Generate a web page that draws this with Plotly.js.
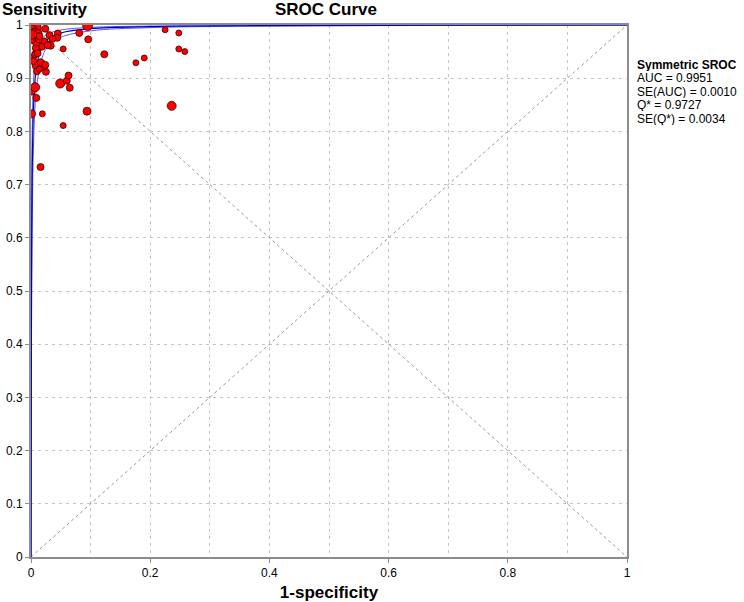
<!DOCTYPE html>
<html>
<head>
<meta charset="utf-8">
<script src="https://cdn.plot.ly/plotly-3.0.1.min.js"></script>
<style>html,body{margin:0;padding:0;background:#fff;}#chart{width:744px;height:602px;}</style>
</head>
<body>
<div id="chart"></div>
<script>
// Study points (1-specificity, sensitivity, marker diameter)
const studyFPR = [0.003,0.001,0.006,0.024,0.095,0.081,0.096,0.045,0.044,0.031,0.036,0.027,0.022,0.018,0.054,0.123,0.176,0.190,0.225,0.248,0.248,0.258,0.236,0.094,0.054,0.019,0.001,0.016,0.001,0.007,0.009,0.049,0.060,0.063,0.065,0.025,0.018,0.022,0.008,0.010,0.014,0.003,0.004,0.007,0.010,0.008,0.011,0.009,0.006,0.002,0.013,0.012,0.014,0.001,0.016,0.024,0.002,0.033,0.028];
const studySens = [0.994,0.990,0.985,0.993,0.999,0.985,0.973,0.984,0.976,0.981,0.974,0.964,0.969,0.959,0.955,0.945,0.929,0.938,0.991,0.985,0.955,0.950,0.848,0.838,0.811,0.833,0.833,0.733,0.875,0.883,0.863,0.890,0.895,0.905,0.882,0.912,0.928,0.922,0.923,0.913,0.917,0.939,0.932,0.945,0.952,0.957,0.947,0.970,0.977,0.975,0.973,0.984,0.979,0.972,0.930,0.925,0.982,0.961,0.962];
const studySize = [17,11,9,7,10,7,7,7,7,7,7,7,7,7,6,7,6,6,6,6,6,6,9,8,6,6,8,7,7,9,7,9,7,7,7,7,7,7,7,7,6,7,7,7,7,7,7,10,8,8,7,8,7,7,7,7,9,7,7];

// SROC curve and its bands
const curveFPR   = [0,0.0005,0.001,0.002,0.004,0.007,0.01,0.02,0.03,0.05,0.1,0.2,0.4,0.7,1];
const srocSens   = [0,0.388,0.56,0.718,0.836,0.90,0.928,0.963,0.975,0.985,0.993,0.997,0.9988,0.9995,1];
const upperSens  = [0,0.5,0.667,0.80,0.889,0.934,0.953,0.976,0.984,0.9906,0.9955,0.998,0.9993,0.9997,1];
const lowerSens  = [0,0.289,0.448,0.62,0.766,0.852,0.891,0.943,0.962,0.977,0.989,0.995,0.998,0.9992,1];

// Reference diagonals
const diagX = [0,1];
const diagUp = [0,1];
const diagDown = [1,0];

const statsLines = ['AUC = 0.9951','SE(AUC) = 0.0010','Q* = 0.9727','SE(Q*) = 0.0034'];

const FONT = 'Liberation Sans, Arial, sans-serif';
const NARROW = 'Liberation Sans Narrow, Liberation Sans, Arial, sans-serif';
const GRID = '#c4c4c4';

const traces = [
  {x: diagX, y: diagUp, mode:'lines', line:{color:'#9a9a9a', width:1, dash:'dot'}, hoverinfo:'skip'},
  {x: diagX, y: diagDown, mode:'lines', line:{color:'#9a9a9a', width:1, dash:'dot'}, hoverinfo:'skip'},
  {x: curveFPR, y: lowerSens, mode:'lines', line:{color:'#5555ff', width:1, shape:'spline'}},
  {x: curveFPR, y: upperSens, mode:'lines', line:{color:'#5555ff', width:1, shape:'spline'}},
  {x: curveFPR, y: srocSens, mode:'lines', line:{color:'#0000b0', width:1.2, shape:'spline'}},
  {x: studyFPR, y: studySens, mode:'markers',
   marker:{color:'#ff0000', opacity:1, size: studySize, line:{color:'#3a0000', width:0.8}}}
];

const annotations = [
  {text:'<b>SROC Curve</b>', xref:'paper', yref:'paper', x:0.5, xshift:-3, y:1, yshift:16, xanchor:'center', yanchor:'middle', showarrow:false, font:{family:FONT, size:17, color:'#000'}},
  {text:'<b>Sensitivity</b>', xref:'paper', yref:'paper', x:0, xshift:-31, y:1, yshift:16, xanchor:'left', yanchor:'middle', showarrow:false, font:{family:FONT, size:17, color:'#000'}},
  {text:'<b>Symmetric SROC</b>', xref:'paper', yref:'paper', x:1, xshift:8, y:1, yshift:-39, xanchor:'left', yanchor:'middle', showarrow:false, height:13, font:{family:FONT, size:12, color:'#000'}}
];
statsLines.forEach((t,i)=>{
  annotations.push({text:t, xref:'paper', yref:'paper', x:1, xshift:8, y:1, yshift:-52.5-13.5*i, xanchor:'left', yanchor:'middle', showarrow:false, height:13, font:{family:FONT, size:12, color:'#000'}});
});

const layout = {
  width:744, height:602,
  margin:{l:31, r:117, t:25, b:45},
  paper_bgcolor:'#fff', plot_bgcolor:'#fff',
  showlegend:false,
  xaxis:{
    range:[0,1], dtick:0.2, tick0:0,
    showgrid:true, gridcolor:GRID, griddash:'3px,4px', gridwidth:1,
    minor:{dtick:0.1, showgrid:true, gridcolor:GRID, griddash:'3px,4px', gridwidth:1},
    zeroline:false, showline:true, mirror:true, linecolor:'#8c8c8c', linewidth:2,
    ticks:'outside', ticklen:4, tickcolor:'#8c8c8c',
    tickfont:{family:NARROW, size:12, color:'#000'},
    title:{text:'<b>1-specificity</b>', font:{family:FONT, size:17, color:'#000'}, standoff:10}
  },
  yaxis:{
    range:[0,1], dtick:0.1, tick0:0,
    showgrid:true, gridcolor:GRID, griddash:'3px,4px', gridwidth:1,
    zeroline:false, showline:true, mirror:true, linecolor:'#8c8c8c', linewidth:2,
    ticks:'outside', ticklen:4, tickcolor:'#8c8c8c',
    tickfont:{family:NARROW, size:12, color:'#000'}
  },
  annotations: annotations
};

Plotly.newPlot('chart', traces, layout, {displayModeBar:false, staticPlot:true});
</script>
</body>
</html>
